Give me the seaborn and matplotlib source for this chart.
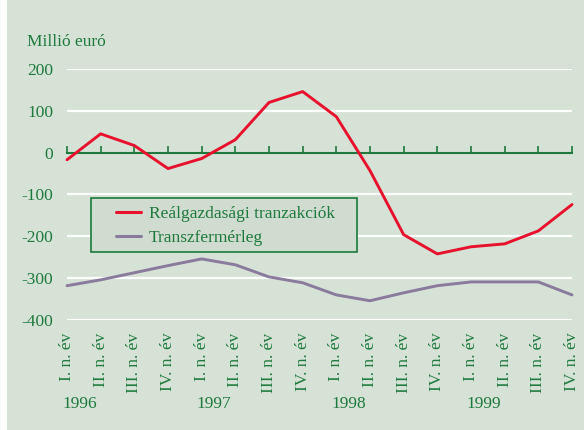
import numpy as np
import pandas as pd
import seaborn as sns
import matplotlib.pyplot as plt
from matplotlib.patches import Rectangle

# data
quarters = ['I. n. év', 'II. n. év', 'III. n. év', 'IV. n. év'] * 4
years = ['1996', '1997', '1998', '1999']
realgazd = [-17, 45, 17, -38, -14, 31, 120, 146, 86, -43, -196, -242, -225, -218, -187, -124]
transzfer = [-318, -304, -287, -270, -254, -268, -297, -311, -340, -354, -335, -318, -309, -309, -309, -340]
yticks = [200, 100, 0, -100, -200, -300, -400]

bg = '#d6e2d6'
green = '#1e7a3c'
red = '#e8112d'
purple = '#8a7a9c'

df = pd.DataFrame({
    'x': list(range(16)) * 2,
    'value': realgazd + transzfer,
    'series': ['Reálgazdasági tranzakciók'] * 16 + ['Transzfermérleg'] * 16,
})

sns.set_theme(style='white')
plt.rcParams['font.family'] = ['Liberation Serif', 'DejaVu Serif']

W, H = 584, 430
fig = plt.figure(figsize=(W / 100, H / 100), dpi=100, facecolor=bg)
fig.patches.append(Rectangle((0, 0), 7 / W, 1, transform=fig.transFigure,
                             facecolor='white', edgecolor='none'))
ax = fig.add_axes([67 / W, 1 - 320 / H, 505 / W, 251 / H])
ax.set_facecolor(bg)

# white gridlines
for y in yticks:
    if y != 0:
        ax.axhline(y, color='white', lw=1.6, zorder=0)

sns.lineplot(data=df, x='x', y='value', hue='series',
             palette=[red, purple], linewidth=2.1, ax=ax, clip_on=False, zorder=3)

ax.set_xlim(0, 15)
ax.set_ylim(-400, 200)

for s in ['top', 'right', 'left']:
    ax.spines[s].set_visible(False)
ax.spines['bottom'].set_position(('data', 0))
ax.spines['bottom'].set_color(green)
ax.spines['bottom'].set_linewidth(1.5)
ax.set_xticks(range(16))
ax.tick_params(axis='x', bottom=True, direction='in', length=5, width=1.2,
               color=green, labelbottom=False)

# quarter labels at the bottom
sec = ax.secondary_xaxis(0)
sec.set_xticks(range(16))
sec.set_xticklabels(quarters, rotation=90, color=green, fontsize=12.5)
sec.tick_params(axis='x', bottom=False, length=0, pad=9)
sec.spines['bottom'].set_visible(False)

ax.set_yticks(yticks)
ax.set_yticklabels([str(v) for v in yticks], color=green, fontsize=12.5)
ax.tick_params(axis='y', length=0, pad=10)
ax.set_xlabel('')
ax.set_ylabel('')

for i, yr in enumerate(years):
    fig.text((67 + (i * 4 + 0.37) * 505 / 15) / W, 1 - 404 / H, yr,
             color=green, fontsize=12.5, ha='center', va='center')

fig.text(27 / W, 1 - 42 / H, 'Millió euró', color=green, fontsize=12.5,
         ha='left', va='center')

# legend box drawn separately so its padding matches the reference
box = Rectangle((91 / W, 1 - 252 / H), 266 / W, 54 / H,
                transform=fig.transFigure, facecolor='#cfdccf',
                edgecolor=green, linewidth=1.2, zorder=4, clip_on=False)
ax.add_artist(box)
leg = ax.legend(loc='upper left', bbox_to_anchor=(116 / W, 1 - 206 / H),
                bbox_transform=fig.transFigure, frameon=False, fontsize=12.5,
                handlelength=1.45, borderpad=0, labelspacing=0.45,
                borderaxespad=0, handletextpad=0.45)
leg.set_zorder(5)
for t in leg.get_texts():
    t.set_color(green)
for l in leg.get_lines():
    l.set_linewidth(2.2)

fig.savefig('out.png', dpi=100, facecolor=bg)
